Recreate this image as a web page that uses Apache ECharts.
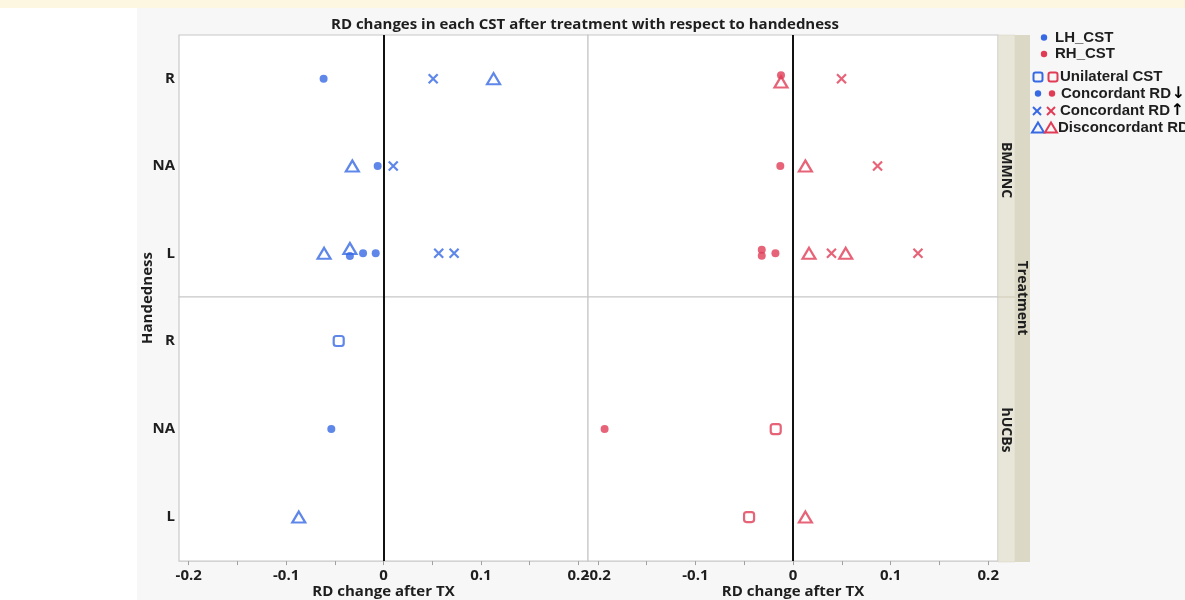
<!DOCTYPE html>
<html>
<head>
<meta charset="utf-8">
<script src="https://cdn.jsdelivr.net/npm/echarts@6/dist/echarts.min.js"></script>
<style>
  html, body { margin: 0; padding: 0; background: #ffffff; }
  #wrap { position: relative; width: 1185px; height: 600px; background: #ffffff; overflow: hidden; }
  #cream { position: absolute; left: 0; top: 0; width: 1185px; height: 8px; background: #fdf7e2; }
  #panel { position: absolute; left: 137px; top: 8px; width: 1048px; height: 592px; background: #f7f7f7; }
  #chart { position: absolute; left: 0; top: 0; width: 1185px; height: 600px; }
</style>
</head>
<body>
<div id="wrap">
  <div id="cream"></div>
  <div id="panel"></div>
  <div id="chart"></div>
</div>
<script>
// ---------------- DATA ----------------
const categories = ['R', 'NA', 'L'];            // handedness rows, top to bottom
const xTickLabels = [-0.2, -0.1, 0, 0.1, 0.2];
const xTickMarks = [-0.2, -0.15, -0.1, -0.05, 0, 0.05, 0.1, 0.15, 0.2];
const treatments = ['BMMNC', 'hUCBs'];
const sides = ['LH_CST', 'RH_CST'];
// each point: [RD change, handedness, jitter (row fraction, + = down)]
// BMMNC, LH_CST
const bmLhConcDown = [[-0.0615, 'R', 0], [-0.006, 'NA', 0], [-0.0345, 'L', 0.03], [-0.021, 'L', 0], [-0.008, 'L', 0]];
const bmLhConcUp   = [[0.051, 'R', 0], [0.010, 'NA', 0], [0.0567, 'L', 0], [0.0725, 'L', 0]];
const bmLhDisc     = [[0.113, 'R', 0], [-0.032, 'NA', 0], [-0.061, 'L', 0], [-0.0345, 'L', -0.055]];
// BMMNC, RH_CST
const bmRhConcDown = [[-0.0123, 'R', -0.038], [-0.013, 'NA', 0], [-0.032, 'L', -0.041], [-0.032, 'L', 0.027], [-0.018, 'L', 0]];
const bmRhConcUp   = [[0.0497, 'R', 0], [0.0866, 'NA', 0], [0.0394, 'L', 0], [0.128, 'L', 0]];
const bmRhDisc     = [[-0.0123, 'R', 0.039], [0.0127, 'NA', 0], [0.0164, 'L', 0], [0.054, 'L', 0]];
// hUCBs, LH_CST
const huLhUni      = [[-0.046, 'R', 0]];
const huLhConcDown = [[-0.0536, 'NA', 0]];
const huLhDisc     = [[-0.087, 'L', 0]];
// hUCBs, RH_CST
const huRhUni      = [[-0.0177, 'NA', 0], [-0.045, 'L', 0]];
const huRhConcDown = [[-0.193, 'NA', 0]];
const huRhDisc     = [[0.0127, 'L', 0]];

// ---------------- STYLE ----------------
const BLUE = '#3769e4';
const RED = '#e03c56';
const FONT = '"Open Sans", "DejaVu Sans", sans-serif';
const LFONT = '"Liberation Sans", Arial, "DejaVu Sans", sans-serif';
const LEGEND_FONT = 'bold 15px ' + LFONT;
const TXT = '#1e1e1e';

const grids = [
  { left: 179, top: 35, width: 409, height: 262 },
  { left: 588, top: 35, width: 410, height: 262 },
  { left: 179, top: 297, width: 409, height: 265 },
  { left: 588, top: 297, width: 410, height: 265 }
].map(g => Object.assign(g, { show: true, backgroundColor: '#ffffff', borderColor: '#c8c8c8', borderWidth: 1.2 }));

const xAxes = grids.map((g, i) => {
  const bottom = i >= 2;
  return {
    type: 'value', gridIndex: i, min: -0.21, max: 0.21, position: 'bottom',
    axisLine: { show: false, onZero: false }, splitLine: { show: false },
    axisTick: { show: bottom, customValues: xTickMarks, length: 4, lineStyle: { color: '#a0a0a0', width: 1 } },
    axisLabel: {
      show: bottom, customValues: xTickLabels, margin: 7,
      formatter: v => (Math.abs(v) < 1e-9 ? '0' : String(+v.toFixed(2))),
      color: TXT, fontFamily: FONT, fontWeight: 'bold', fontSize: 15
    },
    name: bottom ? 'RD change after TX' : '',
    nameLocation: 'middle', nameGap: 19,
    nameTextStyle: { color: TXT, fontFamily: FONT, fontWeight: 'bold', fontSize: 15 }
  };
});

const yAxes = grids.map((g, i) => {
  const left = i % 2 === 0;
  return {
    type: 'value', gridIndex: i, min: -0.5, max: 2.5, inverse: true,
    axisLine: { show: false, onZero: false }, splitLine: { show: false }, axisTick: { show: false },
    axisLabel: {
      show: left, customValues: [0, 1, 2], margin: 4,
      formatter: v => categories[Math.round(v)] || '',
      color: TXT, fontFamily: FONT, fontWeight: 'bold', fontSize: 15
    }
  };
});

const shapeStyle = {
  dot:   c => ({ symbol: 'circle', symbolSize: 8, itemStyle: { color: c, borderWidth: 0 } }),
  cross: c => ({ symbol: 'path://M0,0L10,10M10,0L0,10', symbolSize: 9, itemStyle: { color: 'transparent', borderColor: c, borderWidth: 2.2 } }),
  tri:   c => ({ symbol: 'triangle', symbolSize: [13, 11], itemStyle: { color: 'transparent', borderColor: c, borderWidth: 2.2 } }),
  sq:    c => ({ symbol: 'roundRect', symbolSize: 10, itemStyle: { color: 'transparent', borderColor: c, borderWidth: 2.2 } })
};

function toData(arr) {
  return arr.map(p => [p[0], categories.indexOf(p[1]) + p[2]]);
}

const zeroLine = {
  silent: true, symbol: 'none', animation: false,
  label: { show: false },
  lineStyle: { color: '#111111', width: 2, type: 'solid' },
  data: [{ xAxis: 0 }]
};

const seriesDefs = [
  [0, 'dot', BLUE, bmLhConcDown], [0, 'cross', BLUE, bmLhConcUp], [0, 'tri', BLUE, bmLhDisc],
  [1, 'dot', RED, bmRhConcDown], [1, 'cross', RED, bmRhConcUp], [1, 'tri', RED, bmRhDisc],
  [2, 'sq', BLUE, huLhUni], [2, 'dot', BLUE, huLhConcDown], [2, 'tri', BLUE, huLhDisc],
  [3, 'sq', RED, huRhUni], [3, 'dot', RED, huRhConcDown], [3, 'tri', RED, huRhDisc]
];
const seenGrid = {};
const series = seriesDefs.map(([gi, shape, color, arr]) => {
  const s = Object.assign({
    type: 'scatter', name: treatments[gi >> 1] + ' ' + sides[gi % 2] + ' ' + shape,
    xAxisIndex: gi, yAxisIndex: gi, data: toData(arr), animation: false, z: 3
  }, shapeStyle[shape](color));
  if (!seenGrid[gi]) { s.markLine = zeroLine; seenGrid[gi] = true; }
  return s;
});

// ---------------- GRAPHICS (title, strips, legend) ----------------
function txt(x, y, text, font, opts) {
  return Object.assign({
    type: 'text', x: x, y: y, z: 20,
    style: Object.assign({ text: text, font: font, fill: TXT, align: 'center', verticalAlign: 'middle', textAlign: 'center', textVerticalAlign: 'middle' }, (opts && opts.style) || {})
  }, opts && opts.rotation !== undefined ? { rotation: opts.rotation } : {});
}

function legendSym(kind, color, cx, cy) {
  if (kind === 'dot') return { type: 'circle', z: 20, shape: { cx: cx, cy: cy, r: 3.2 }, style: { fill: color } };
  if (kind === 'sq') return { type: 'rect', z: 20, shape: { x: cx - 4.5, y: cy - 4.5, width: 9, height: 9, r: 2 }, style: { fill: 'none', stroke: color, lineWidth: 2 } };
  if (kind === 'x') return { type: 'group', z: 20, children: [
    { type: 'line', shape: { x1: cx - 4, y1: cy - 4, x2: cx + 4, y2: cy + 4 }, style: { stroke: color, lineWidth: 2 } },
    { type: 'line', shape: { x1: cx + 4, y1: cy - 4, x2: cx - 4, y2: cy + 4 }, style: { stroke: color, lineWidth: 2 } }
  ] };
  return { type: 'polygon', z: 20, shape: { points: [[cx, cy - 5.5], [cx + 6, cy + 4.5], [cx - 6, cy + 4.5]] }, style: { fill: 'none', stroke: color, lineWidth: 2 } };
}

const legendRows = [
  { y: 37.5, syms: [['dot', BLUE, 1044]], text: 'LH_CST', tx: 1055 },
  { y: 54, syms: [['dot', RED, 1044]], text: 'RH_CST', tx: 1055 },
  { y: 77, syms: [['sq', BLUE, 1038], ['sq', RED, 1053]], text: 'Unilateral CST', tx: 1060 },
  { y: 93.5, syms: [['dot', BLUE, 1038], ['dot', RED, 1052]], text: 'Concordant RD', tx: 1061, arrow: '\u2193' },
  { y: 111, syms: [['x', BLUE, 1037], ['x', RED, 1051]], text: 'Concordant RD', tx: 1060, arrow: '\u2191' },
  { y: 128, syms: [['tri', BLUE, 1038], ['tri', RED, 1051]], text: 'Disconcordant RD', tx: 1058 }
];

const measureCtx = document.createElement('canvas').getContext('2d');
function textWidth(t, font) { measureCtx.font = font; return measureCtx.measureText(t).width; }

const graphic = [
  // facet strips
  { type: 'rect', z: 10, shape: { x: 998, y: 35, width: 17, height: 527 }, style: { fill: '#e8e6d8', stroke: '#d6d3c2', lineWidth: 0.5 } },
  { type: 'rect', z: 10, shape: { x: 1015, y: 35, width: 15, height: 527 }, style: { fill: '#dbd8c5' } },
  { type: 'line', z: 11, shape: { x1: 998, y1: 297, x2: 1015, y2: 297 }, style: { stroke: '#cfcbb8', lineWidth: 1 } },
  txt(1006, 170, 'BMMNC', 'bold 14px ' + FONT, { rotation: -Math.PI / 2 }),
  txt(1006, 430, 'hUCBs', 'bold 14px ' + FONT, { rotation: -Math.PI / 2 }),
  txt(1022, 298, 'Treatment', 'bold 14px ' + FONT, { rotation: -Math.PI / 2 }),
  // title & y name
  txt(585, 25, 'RD changes in each CST after treatment with respect to handedness', 'bold 15px ' + FONT),
  txt(148, 298, 'Handedness', 'bold 15px ' + FONT, { rotation: Math.PI / 2 })
];
legendRows.forEach(r => {
  r.syms.forEach(s => graphic.push(legendSym(s[0], s[1], s[2], r.y)));
  graphic.push({ type: 'text', x: r.tx, y: r.y, z: 20,
    style: { text: r.text, font: LEGEND_FONT, fill: TXT, align: 'left', verticalAlign: 'middle', textAlign: 'left', textVerticalAlign: 'middle' } });
  if (r.arrow) {
    graphic.push({ type: 'text', x: r.tx + textWidth(r.text, LEGEND_FONT) + 0.5, y: r.y, z: 20,
      style: { text: r.arrow, font: 'bold 16px "DejaVu Sans", sans-serif', fill: '#000', align: 'left', verticalAlign: 'middle', textAlign: 'left', textVerticalAlign: 'middle' } });
  }
});

const chart = echarts.init(document.getElementById('chart'), null, { renderer: 'canvas' });
chart.setOption({
  backgroundColor: 'transparent',
  animation: false,
  grid: grids,
  xAxis: xAxes,
  yAxis: yAxes,
  series: series,
  graphic: graphic
});
</script>
</body>
</html>
